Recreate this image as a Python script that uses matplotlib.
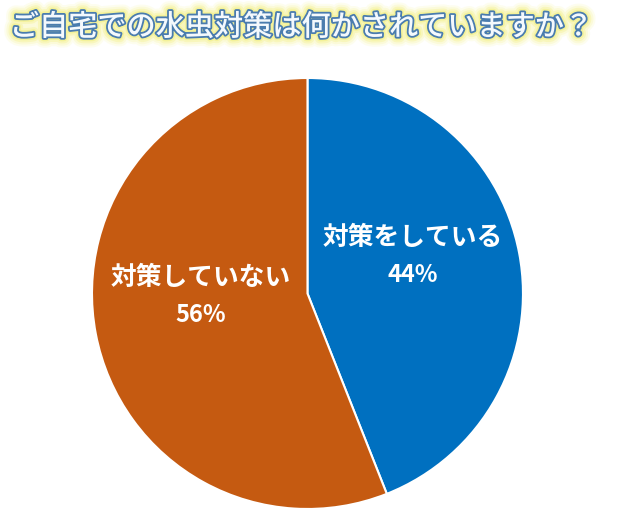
import matplotlib
matplotlib.use('Agg')
import matplotlib.pyplot as plt
import matplotlib.patheffects as pe

plt.rcParams['font.family'] = ['Noto Sans CJK JP', 'DejaVu Sans']

# data
title = 'ご自宅での水虫対策は何かされていますか？'
labels = ['対策をしている', '対策していない']
values = [44, 56]
colors = ['#0070C0', '#C55A11']
label_pos = [(0.49, 0.174), (-0.494, -0.014)]

fig = plt.figure(figsize=(6.17, 5.2), dpi=100)
ax = fig.add_axes([0.1491, 0.0212, 0.6985, 0.8288])

ax.pie(values, colors=colors, startangle=90, counterclock=False,
       wedgeprops=dict(edgecolor='white', linewidth=1.5))
ax.set_xlim(-1, 1)
ax.set_ylim(-1, 1)
ax.set_aspect('equal')
ax.axis('off')

for lab, v, (x, y) in zip(labels, values, label_pos):
    ax.text(x, y + 0.088, lab, color='white', fontsize=18.5, fontweight='bold',
            ha='center', va='center')
    ax.text(x, y - 0.088, '{}%'.format(v), color='white', fontsize=17,
            fontweight='bold', ha='center', va='center')

# title with yellow glow and blue outline
glow = [pe.Stroke(linewidth=w, foreground='#f2ef7a', alpha=a)
        for w, a in [(14, 0.12), (11, 0.18), (8, 0.3), (5, 0.5)]]
fig.text(0.488, 0.948, title, fontsize=21, fontweight='medium',
         color='#f4f9fd', ha='center', va='center',
         path_effects=glow + [pe.Stroke(linewidth=2.6, foreground='#4a7cae'),
                              pe.Normal()])

fig.savefig('out.png', dpi=100)
